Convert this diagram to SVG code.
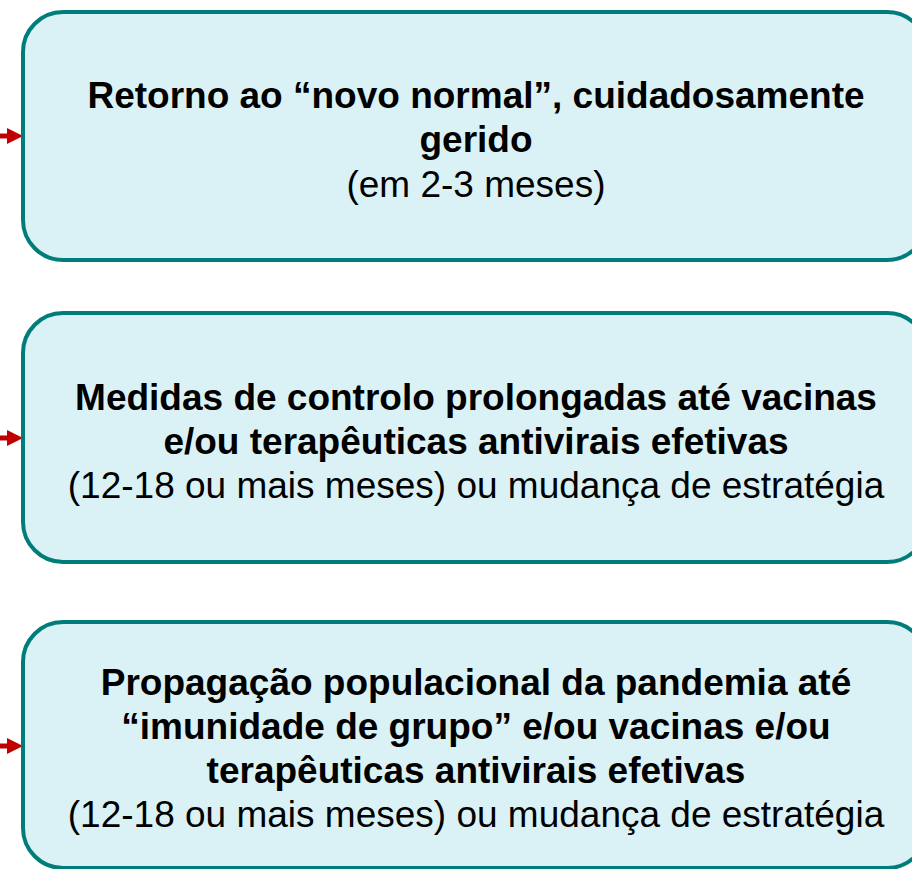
<svg xmlns="http://www.w3.org/2000/svg" width="912" height="869" viewBox="0 0 912 869">
<style>
.box{fill:#DAF2F5;stroke:#007D7B;stroke-width:4}
.b{font-family:"Liberation Sans",Arial,sans-serif;font-weight:bold;font-size:37px;fill:#000;text-anchor:middle}
.r{font-family:"Liberation Sans",Arial,sans-serif;font-size:37px;fill:#000;text-anchor:middle}
.arr{stroke:#C00000;stroke-width:5;fill:none}
.head{fill:#C00000}
</style>
<rect width="912" height="869" fill="#fff"/>
<g id="connectors">
<line class="arr" x1="-2" y1="136" x2="9" y2="136"/>
<polygon class="head" points="7,128 23,136 7,144"/>
<line class="arr" x1="-2" y1="438" x2="9" y2="438"/>
<polygon class="head" points="7,430 23,438 7,446"/>
<line class="arr" x1="-2" y1="746" x2="9" y2="746"/>
<polygon class="head" points="7,738 23,746 7,754"/>
</g>
<g id="node1">
<rect class="box" x="23" y="12" width="904" height="248" rx="40" ry="40"/>
<text class="b" x="476" y="108">Retorno ao “novo normal”, cuidadosamente</text>
<text class="b" x="476" y="152">gerido</text>
<text class="r" x="476" y="197">(em 2-3 meses)</text>
</g>
<g id="node2">
<rect class="box" x="23" y="313" width="904" height="249" rx="40" ry="40"/>
<text class="b" x="476" y="410">Medidas de controlo prolongadas até vacinas</text>
<text class="b" x="476" y="454">e/ou terapêuticas antivirais efetivas</text>
<text class="r" x="476" y="498">(12-18 ou mais meses) ou mudança de estratégia</text>
</g>
<g id="node3">
<rect class="box" x="23" y="622" width="904" height="246" rx="40" ry="40"/>
<text class="b" x="476" y="695">Propagação populacional da pandemia até</text>
<text class="b" x="476" y="739">“imunidade de grupo” e/ou vacinas e/ou</text>
<text class="b" x="476" y="783">terapêuticas antivirais efetivas</text>
<text class="r" x="476" y="827">(12-18 ou mais meses) ou mudança de estratégia</text>
</g>
</svg>
